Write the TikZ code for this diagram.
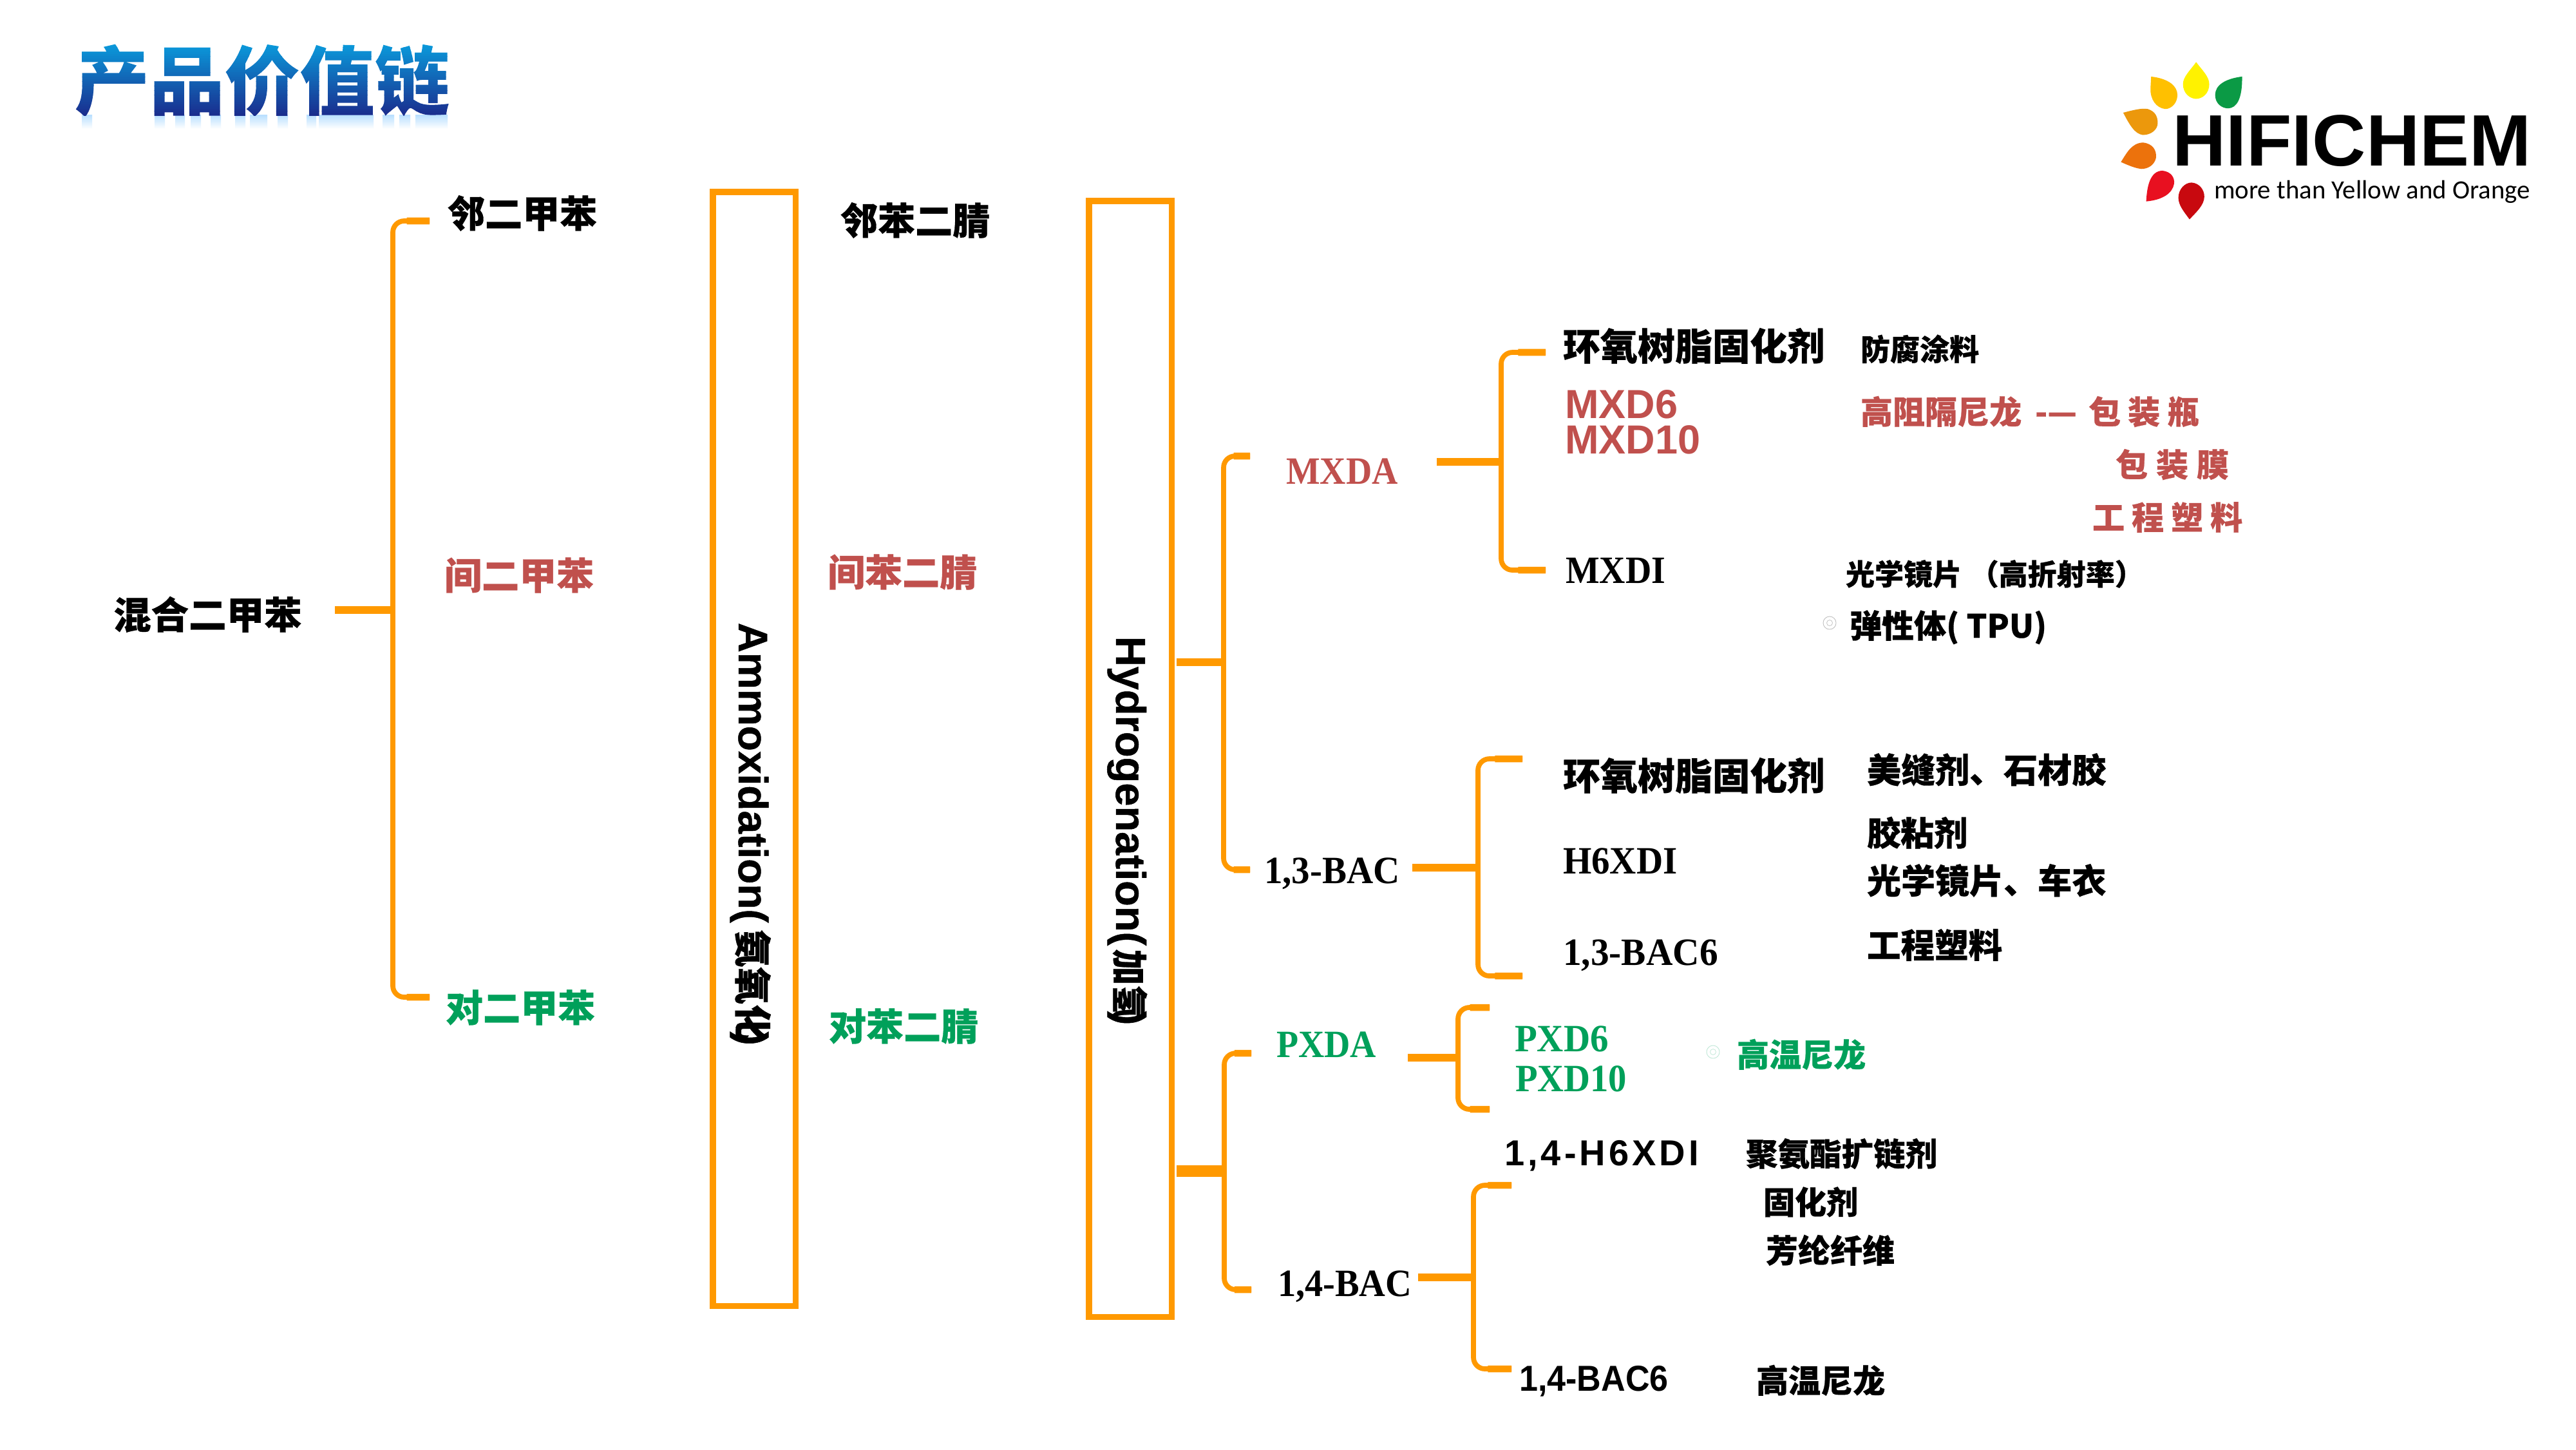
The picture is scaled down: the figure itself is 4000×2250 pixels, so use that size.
\documentclass[tikz,border=0pt]{standalone}
\usepackage{fontspec}
\setmainfont{Liberation Sans}
\newfontfamily\cjkf[BoldFeatures={FakeBold=0.5}]{Noto Sans CJK SC}
\newfontfamily\titlef{Noto Sans CJK SC}
\newfontfamily\serf{Liberation Serif}
\newfontfamily\calf{Carlito}
\newfontfamily\rotf[BoldFeatures={FakeBold=0.8}]{Liberation Sans}
\newdimen\pxunit \pxunit=0.2845pt
\definecolor{brk}{HTML}{FF9900}
\definecolor{redt}{HTML}{C0504D}
\definecolor{grnt}{HTML}{00A05A}
\newcommand{\pxfont}[1]{\fontsize{\the\dimexpr #1\pxunit\relax}{\the\dimexpr #1\pxunit\relax}\selectfont}
% name, x, y(ink centre), size px, colour, text
\newcommand{\cjl}[6]{\node[lab,text=#5] (#1) at (#2,#3) {\pxfont{#4}\cjkf\bfseries\rule{0pt}{.84em}\rule[-.08em]{0pt}{.08em}\smash{#6}};}
% [xscale] name, x, y(cap centre), size px, colour, font, text
\newcommand{\lat}[8][1]{\node[lab,text=#6,xscale=#1,transform shape] (#2) at (#3,#4) {\pxfont{#5}#7\rule{0pt}{.68em}\smash{#8}};}
% id, x, stub x, top, bottom, root x, root y
\newcommand{\bracket}[7]{%
  \coordinate (#1t) at (#3,#4); \coordinate (#1tc) at (#2,#4);
  \coordinate (#1b) at (#3,#5); \coordinate (#1bc) at (#2,#5);
  \coordinate (#1m) at (#2,#7); \coordinate (#1r) at (#6,#7);
  \draw[brkline] (#1t) -- (#1tc) -- (#1bc) -- (#1b);
  \draw[brkstem] (#1r) -- (#1m);
  \draw[brkstub] (#1t) -- ($(#1t)!0.62!(#1tc)$);
  \draw[brkstub] (#1b) -- ($(#1b)!0.62!(#1bc)$);
}
\usetikzlibrary{calc}
\tikzset{
  lab/.style={anchor=west,inner sep=0pt,outer sep=0pt},
  brkline/.style={draw=brk,line width=2.2pt,rounded corners=5pt},
  brkstem/.style={draw=brk,line width=3.2pt},
  brkstub/.style={draw=brk,line width=3pt},
  boxr/.style={draw=brk,line width=2.6pt,fill=none,inner sep=0pt,outer sep=0pt,anchor=north west}
}
\begin{document}
\begin{tikzpicture}[x=0.01cm,y=-0.01cm]
\useasboundingbox (0,0) rectangle (4000,2250);
\fill[white] (0,0) rectangle (4000,2250);

% title gradient strips
\gdef\titlestrips{}
\foreach \i in {0,...,31}{
  \pgfmathsetmacro{\rr}{(10+(26-10)*\i/31)/255}
  \pgfmathsetmacro{\gg}{(155+(46-155)*\i/31)/255}
  \pgfmathsetmacro{\bb}{(220+(142-220)*\i/31)/255}
  \pgfmathsetmacro{\yy}{29-(\i+1)*1.0}
  \xdef\titlestrips{\titlestrips\space \rr\space\gg\space\bb\space rg -172 \yy\space 176 1.1 re f}
}
\foreach \a/\b in {127/143,240/256,272/287,296/312,327/343,365/381,388/415,431/447,476/491,495/580,594/612,620/637,645/695}{
  \shade[top color=blue!45!cyan!28!white,bottom color=white] (\a,178) rectangle (\b,200);
}
\node[anchor=base west,inner sep=0pt] (title) at (115,169) {\pxfont{116.5}\titlef\bfseries\special{pdf:code q 7 Tr}产品价值链\special{pdf:code 0 Tr}\special{pdf:content \titlestrips}\special{pdf:code Q}};

% boxes
\node[boxr,minimum width=128\pxunit,minimum height=1729\pxunit] (boxa) at (1107,298) {};
\node[boxr,minimum width=128\pxunit,minimum height=1732\pxunit] (boxh) at (1691,312) {};
\node[anchor=base west,inner sep=0pt,rotate=-90] (amm) at (1147,966) {\pxfont{64}\rotf\bfseries Ammoxidation(\kern3pt{\cjkf\pxfont{58}氨氧化}\kern-4.5pt)};
\node[anchor=base west,inner sep=0pt,rotate=-90] (hyd) at (1733,987) {\pxfont{65}\rotf\bfseries Hydrogenation(\kern1.5pt{\cjkf\pxfont{56}加氢}\kern-4.5pt)};

% brackets
\bracket{ba}{610}{667}{343}{1548}{520}{947}
\bracket{bb}{1900}{1941}{708}{1350}{1827}{1028}
\bracket{bc}{2331}{2400}{547}{885}{2231}{717}
\bracket{bd}{2295}{2364}{1178}{1515}{2193}{1347}
\bracket{be}{2264}{2313}{1564}{1722}{2186}{1642}
\bracket{bf}{1901}{1943}{1635}{2002}{1827}{1818}
\bracket{bg}{2288}{2347}{1840}{2125}{2202}{1983}
\draw[draw=brk,line width=5pt] (bfr) -- (bfm);

% left columns
\cjl{n1}{176}{954}{58.5}{black}{混合二甲苯}
\cjl{n2}{695}{331}{58}{black}{邻二甲苯}
\cjl{n3}{690}{893}{58}{redt}{间二甲苯}
\cjl{n4}{692}{1564}{58}{grnt}{对二甲苯}
\cjl{n5}{1305}{342}{58}{black}{邻苯二腈}
\cjl{n6}{1285}{888}{58}{redt}{间苯二腈}
\cjl{n7}{1287}{1593}{58}{grnt}{对苯二腈}

% MXDA group
\lat[0.93]{m1}{1997}{731}{60}{redt}{\serf\bfseries}{MXDA}
\cjl{m2}{2427}{537}{58}{black}{环氧树脂固化剂}
\cjl{m3}{2889}{542}{46}{black}{防腐涂料}
\lat{m4}{2430}{628}{63}{redt}{\bfseries}{MXD6}
\lat{m5}{2430}{683}{63}{redt}{\bfseries}{MXD10}
\cjl{m6}{2889}{639}{50}{redt}{高阻隔尼龙\kern.42em -—\kern.36em 包\kern.22em 装\kern.22em 瓶}
\cjl{m7}{3285}{721}{50}{redt}{包\kern.26em 装\kern.26em 膜}
\cjl{m8}{3249}{803}{50}{redt}{工\kern.22em 程\kern.22em 塑\kern.22em 料}
\lat[0.93]{m9}{2431}{885}{60}{black}{\serf\bfseries}{MXDI}
\cjl{m10}{2866}{891}{45}{black}{光学镜片\kern.28em （高折射率）}
\node[circle,draw=black!25,line width=.25pt,minimum size=20\pxunit,inner sep=0pt] (d1) at (2841,967) {};
\node[circle,draw=black!25,line width=.2pt,minimum size=9\pxunit,inner sep=0pt] (d1i) at (2841,967) {};
\cjl{m11}{2872}{971}{50}{black}{弹性体( TPU)}

% 1,3-BAC group
\lat[0.95]{p1}{1963}{1351}{60}{black}{\serf\bfseries}{1,3-BAC}
\cjl{p2}{2427}{1204}{58}{black}{环氧树脂固化剂}
\cjl{p3}{2899}{1195}{53}{black}{美缝剂、石材胶}
\cjl{p4}{2899}{1293}{52}{black}{胶粘剂}
\lat[0.95]{p5}{2427}{1336}{60}{black}{\serf\bfseries}{H6XDI}
\cjl{p6}{2899}{1367}{53}{black}{光学镜片、车衣}
\lat[0.956]{p7}{2427}{1478}{60}{black}{\serf\bfseries}{1,3-BAC6}
\cjl{p8}{2899}{1467}{52.5}{black}{工程塑料}

% PXDA group
\lat[0.93]{q1}{1982}{1621}{60}{grnt}{\serf\bfseries}{PXDA}
\lat[0.95]{q2}{2352}{1612}{60}{grnt}{\serf\bfseries}{PXD6}
\lat[0.945]{q3}{2353}{1674}{60}{grnt}{\serf\bfseries}{PXD10}
\node[circle,draw=grnt!25,line width=.25pt,minimum size=20\pxunit,inner sep=0pt] (d2) at (2660,1633) {};
\node[circle,draw=grnt!25,line width=.2pt,minimum size=9\pxunit,inner sep=0pt] (d2i) at (2660,1633) {};
\cjl{q4}{2697}{1637}{50}{grnt}{高温尼龙}

% 1,4 group
\lat{r1}{2336}{1790}{56}{black}{\bfseries\addfontfeature{LetterSpace=9}}{1,4-H6XDI}
\cjl{r2}{2711}{1791}{49.5}{black}{聚氨酯扩链剂}
\cjl{r3}{2738}{1866}{49}{black}{固化剂}
\cjl{r4}{2742}{1941}{50}{black}{芳纶纤维}
\lat[0.94]{r5}{1984}{1992}{60}{black}{\serf\bfseries}{1,4-BAC}
\lat[0.93]{r6}{2359}{2140}{56}{black}{\bfseries}{1,4-BAC6}
\cjl{r7}{2727}{2143}{50}{black}{高温尼龙}

% logo
\begin{scope}[shift={(3200,50)},x=0.0051cm,y=-0.00336cm]
\fill[yellow] (412,138) .. controls (395,175) and (372,205) .. (372,240) .. controls (372,285) and (395,308) .. (412,308) .. controls (430,308) and (452,285) .. (452,240) .. controls (452,205) and (430,175) .. (412,138) -- cycle;
\fill[fill={rgb,255:red,255;green,192;blue,0}] (275,205) .. controls (330,215) and (355,250) .. (355,290) .. controls (355,330) and (335,355) .. (318,355) .. controls (290,350) and (272,310) .. (273,260) -- cycle;
\fill[fill={rgb,255:red,11;green,154;blue,69}] (552,205) .. controls (500,215) and (470,245) .. (470,290) .. controls (470,330) and (490,352) .. (510,352) .. controls (535,350) and (553,310) .. (552,205) -- cycle;
\fill[fill={rgb,255:red,236;green,152;blue,12}] (190,372) .. controls (220,360) and (245,350) .. (265,355) .. controls (285,365) and (295,385) .. (295,420) .. controls (295,450) and (275,475) .. (250,475) .. controls (225,470) and (210,430) .. (190,372) -- cycle;
\fill[fill={rgb,255:red,236;green,114;blue,12}] (183,600) .. controls (200,560) and (215,512) .. (250,510) .. controls (280,515) and (292,545) .. (290,580) .. controls (285,615) and (265,632) .. (245,632) .. controls (225,628) and (205,615) .. (183,600) -- cycle;
\fill[fill={rgb,255:red,232;green,16;blue,32}] (260,782) .. controls (262,720) and (270,640) .. (310,640) .. controls (335,645) and (347,670) .. (345,700) .. controls (340,745) and (310,775) .. (260,782) -- cycle;
\fill[fill={rgb,255:red,200;green,9;blue,15}] (392,865) .. controls (375,830) and (358,800) .. (358,765) .. controls (358,725) and (378,695) .. (398,695) .. controls (420,697) and (437,725) .. (437,760) .. controls (437,800) and (410,835) .. (392,865) -- cycle;
\end{scope}
\lat[1.02]{l1}{3373}{219}{113}{black}{\bfseries}{HIFICHEM}
\node[lab,text=black] (l2) at (3438,298) {\pxfont{40.8}\calf more than Yellow and Orange};
\end{tikzpicture}
\end{document}
